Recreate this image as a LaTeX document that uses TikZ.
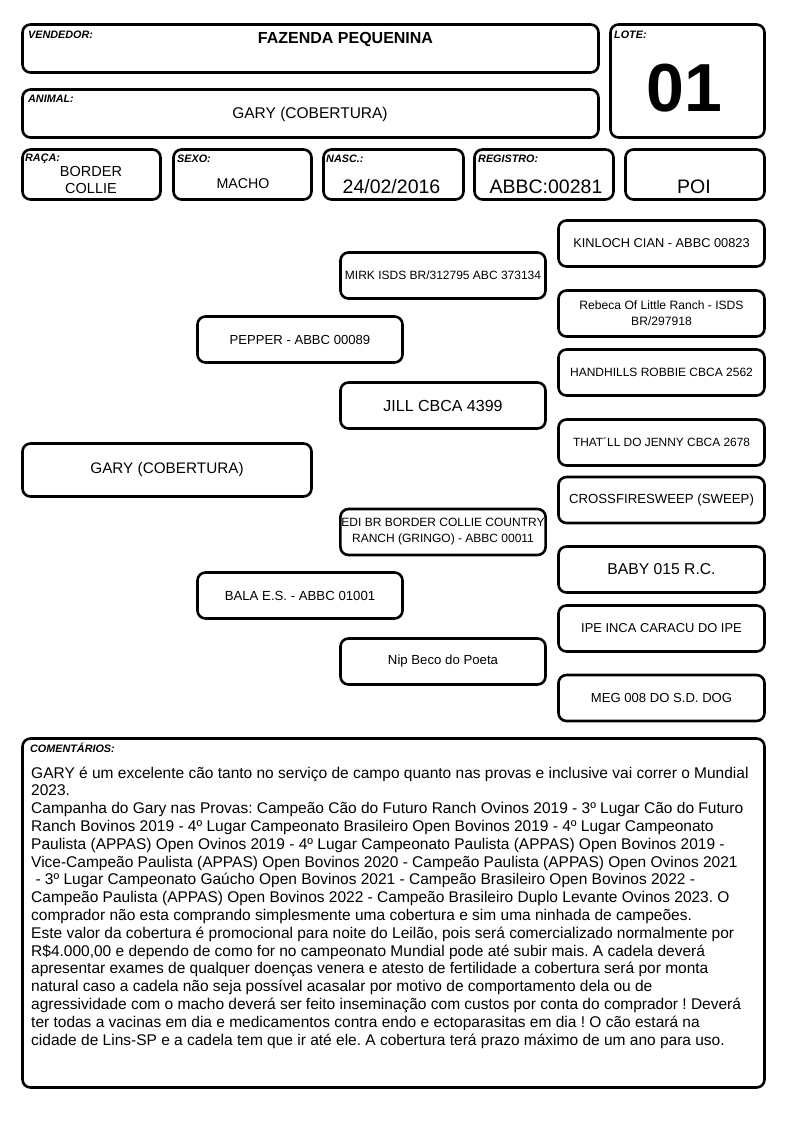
\documentclass[tikz,border=0pt]{standalone}
\usepackage{fontspec}
\setmainfont{Liberation Sans}
\newcommand{\fsz}[2]{\fontsize{#1}{#2}\selectfont}
\frenchspacing

\begin{document}
\begin{tikzpicture}[x=1pt,y=-1pt,
 box/.style={draw,line width=2.6pt,rounded corners=8pt,inner sep=1pt,align=center},
 lbl/.style={anchor=base west,inner sep=0pt,font=\fsz{10.8}{12}\bfseries\itshape},
 val/.style={anchor=base,inner sep=0pt},
 ped/.style={box,minimum width=205pt,minimum height=46pt},
 outer/.style={box,minimum width=206pt,minimum height=46pt}]
\useasboundingbox (0,0) rectangle (794,1123);

\node[box,minimum width=576pt,minimum height=48pt] (vend) at (310.5,48.5) {};
\node[lbl] (vendlbl) at (28,39) {VENDEDOR:};
\node[val,font=\fsz{16}{19}\bfseries] (vendtxt) at (345.5,43.7) {FAZENDA PEQUENINA};

\node[box,minimum width=576pt,minimum height=48pt] (anim) at (310.5,113.5) {};
\node[lbl] (animlbl) at (28,103) {ANIMAL:};
\node[val,font=\fsz{15.5}{18}] (animtxt) at (310,118.5) {GARY (COBERTURA)};

\node[box,minimum width=154pt,minimum height=113pt] (lote) at (687.5,81) {};
\node[lbl] (lotelbl) at (614,39) {LOTE:};
\node[val,font=\fsz{68}{70}\bfseries] (lotetxt) at (684,112) {01};

\node[box,minimum width=138pt,minimum height=50pt] (raca) at (91.5,174.5) {};
\node[lbl] (racalbl) at (25,162) {RAÇA:};
\node[inner sep=0pt,align=center,font=\fsz{14.5}{17}] (racatxt) at (91,180.5) {BORDER\\COLLIE};

\node[box,minimum width=138pt,minimum height=50pt] (sexo) at (242.5,174.5) {};
\node[lbl] (sexolbl) at (177,163) {SEXO:};
\node[val,font=\fsz{14.2}{17}] (sexotxt) at (243,189) {MACHO};

\node[box,minimum width=140pt,minimum height=50pt] (nasc) at (393.5,174.5) {};
\node[lbl] (nasclbl) at (326,163) {NASC.:};
\node[val,font=\fsz{19.5}{22}] (nasctxt) at (391.5,193.3) {24/02/2016};

\node[box,minimum width=139pt,minimum height=50pt] (reg) at (544,174.5) {};
\node[lbl] (reglbl) at (478,163) {REGISTRO:};
\node[val,font=\fsz{19.5}{22}] (regtxt) at (546,193.3) {ABBC:00281};

\node[box,minimum width=139pt,minimum height=50pt] (poi) at (695,174.5) {};
\node[val,font=\fsz{19.5}{22}] (poitxt) at (694,193.3) {POI};

\node[box,minimum width=289pt,minimum height=53pt,font=\fsz{15.3}{18}] (gary) at (167,470) {GARY (COBERTURA)};
\node[ped,font=\fsz{13.1}{16}] (pepper) at (300,339.5) {PEPPER - ABBC 00089};
\node[ped,font=\fsz{13.2}{16}] (bala) at (300,595.5) {BALA E.S. - ABBC 01001};
\node[ped,font=\fsz{12}{16}] (mirk) at (443,275.5) {MIRK ISDS BR/312795 ABC 373134};
\node[ped,font=\fsz{16}{18}] (jill) at (443,405.5) {JILL CBCA 4399};
\node[ped,font=\fsz{12}{16}] (edi) at (443,532) {EDI BR BORDER COLLIE COUNTRY\\RANCH (GRINGO) - ABBC 00011};
\node[ped,font=\fsz{13.2}{16}] (nip) at (443,661.5) {Nip Beco do Poeta};

\node[outer,font=\fsz{12.8}{16}] (kinloch) at (661.5,243.5) {KINLOCH CIAN - ABBC 00823};
\node[outer,font=\fsz{12.1}{16}] (rebeca) at (661.5,313.5) {Rebeca Of Little Ranch - ISDS\\BR/297918};
\node[outer,font=\fsz{12}{16}] (handhills) at (661.5,372.5) {HANDHILLS ROBBIE CBCA 2562};
\node[outer,font=\fsz{11.9}{16}] (jenny) at (661.5,442.5) {THAT´LL DO JENNY CBCA 2678};
\node[outer,font=\fsz{13.2}{16}] (sweep) at (661.5,500) {CROSSFIRESWEEP (SWEEP)};
\node[outer,font=\fsz{15.7}{18}] (baby) at (661.5,569.5) {BABY 015 R.C.};
\node[outer,font=\fsz{12.9}{16}] (ipe) at (661.5,628.5) {IPE INCA CARACU DO IPE};
\node[outer,font=\fsz{13.1}{16}] (meg) at (661.5,698) {MEG 008 DO S.D. DOG};

\node[box,minimum width=742pt,minimum height=349pt] (com) at (393.5,913) {};
\node[lbl] (comlbl) at (30,752) {COMENTÁRIOS:};
\node[anchor=north west,inner sep=0pt,align=left,font=\fsz{15.5}{17.8}] (comtxt) at (31,766.5) {GARY é um excelente cão tanto no serviço de campo quanto nas provas e inclusive vai correr o Mundial\\
2023.\\
Campanha do Gary nas Provas: Campeão Cão do Futuro Ranch Ovinos 2019 - 3º Lugar Cão do Futuro\\
Ranch Bovinos 2019 - 4º Lugar Campeonato Brasileiro Open Bovinos 2019 - 4º Lugar Campeonato\\
Paulista (APPAS) Open Ovinos 2019 - 4º Lugar Campeonato Paulista (APPAS) Open Bovinos 2019 -\\
Vice-Campeão Paulista (APPAS) Open Bovinos 2020 - Campeão Paulista (APPAS) Open Ovinos 2021\\
\hspace*{0.28em}- 3º Lugar Campeonato Gaúcho Open Bovinos 2021 - Campeão Brasileiro Open Bovinos 2022 -\\
Campeão Paulista (APPAS) Open Bovinos 2022 - Campeão Brasileiro Duplo Levante Ovinos 2023. O\\
comprador não esta comprando simplesmente uma cobertura e sim uma ninhada de campeões.\\
Este valor da cobertura é promocional para noite do Leilão, pois será comercializado normalmente por\\
R\$4.000,00 e dependo de como for no campeonato Mundial pode até subir mais. A cadela deverá\\
apresentar exames de qualquer doenças venera e atesto de fertilidade a cobertura será por monta\\
natural caso a cadela não seja possível acasalar por motivo de comportamento dela ou de\\
agressividade com o macho deverá ser feito inseminação com custos por conta do comprador ! Deverá\\
ter todas a vacinas em dia e medicamentos contra endo e ectoparasitas em dia ! O cão estará na\\
cidade de Lins-SP e a cadela tem que ir até ele. A cobertura terá prazo máximo de um ano para uso.};
\end{tikzpicture}
\end{document}
